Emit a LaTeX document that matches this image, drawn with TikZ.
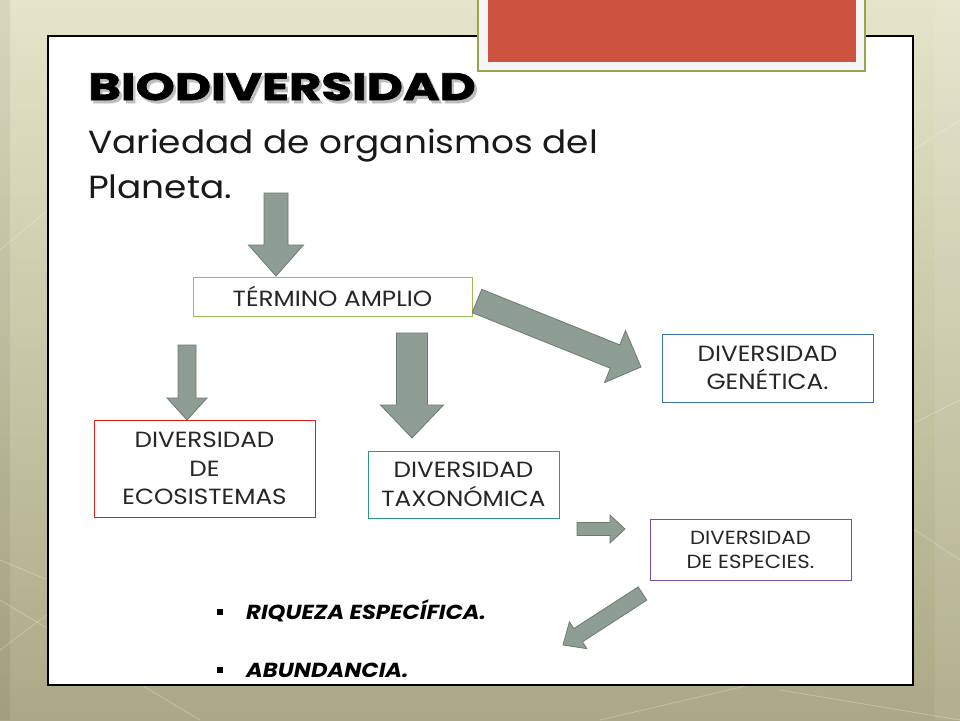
\documentclass[tikz,border=0pt]{standalone}
\usepackage{fontspec}
\setmainfont{Poppins}[FakeStretch=1.12]
\newfontfamily\titlefont{Poppins}[FakeStretch=1.31, BoldFeatures={FakeBold=2}]
\usetikzlibrary{calc}
\definecolor{bgtop}{HTML}{E4E5C9}
\definecolor{bgbot}{HTML}{ABA985}
\definecolor{arrfill}{HTML}{8E9E94}
\definecolor{arrdraw}{HTML}{6C7B72}
\definecolor{redfill}{HTML}{CD5340}
\definecolor{olive}{HTML}{9AA34D}
\definecolor{cgreen}{HTML}{9BBB59}
\definecolor{cblue}{HTML}{3A6FA5}
\definecolor{cred}{HTML}{E0201B}
\definecolor{cteal}{HTML}{2A9A80}
\definecolor{cpurple}{HTML}{7A4FA0}
\tikzset{
  blockarrow/.style={fill=arrfill, draw=arrdraw, line width=0.8pt, line join=miter},
  conceptbox/.style={draw, line width=1pt, align=center, inner sep=0pt, text=black!85},
  boxfont/.style={font=\fontsize{22}{28.5}\selectfont},
  smallfont/.style={font=\fontsize{19}{24}\selectfont},
  titlestyle/.style={anchor=base west, inner sep=0pt, font=\fontsize{38}{38}\selectfont\titlefont\bfseries},
  subtitle/.style={anchor=base west, inner sep=0pt, font=\fontsize{32}{32}\selectfont, text=black!90},
  bullettext/.style={anchor=base west, inner sep=0pt, font=\fontsize{20.3}{20}\selectfont\bfseries\itshape},
}
\newcommand{\blockarr}[6]{%
  \coordinate (#1-h) at ($(#3)!#6!(#2)$);
  \draw[blockarrow] ($(#2)!#4!90:(#3)$) -- ($(#1-h)!#4!90:(#3)$) -- ($(#1-h)!#5!90:(#3)$) -- (#3)
    -- ($(#1-h)!#5!-90:(#3)$) -- ($(#1-h)!#4!-90:(#3)$) -- ($(#2)!#4!-90:(#3)$) -- cycle;
}
\begin{document}
\begin{tikzpicture}[x=1pt,y=-1pt]
\useasboundingbox (0,0) rectangle (960,720);
% background
\shade[top color=bgtop, bottom color=bgbot] (0,0) rectangle (960,720);
\fill[black, opacity=0.06] (0,0) rectangle (10,720);
\fill[white, opacity=0.08] (935,0) rectangle (960,720);
\foreach \a/\b/\c/\d in {0/600/200/720, 0/650/120/560, 0/560/48/580, 900/430/960/400, 900/520/960/560, 600/720/750/685, 780/690/960/720, 0/250/48/210, 913/150/960/120}{
  \draw[white, opacity=0.25, line width=0.8pt] (\a,\b) -- (\c,\d);
}
% panel
\draw[fill=white, line width=1.5pt] (48,36) rectangle (913,685);
% red frame top
\draw[fill=black!4, draw=olive, line width=2.5pt] (478,-5) rectangle (865,71);
\fill[redfill] (488,-5) rectangle (856,62);
% title (with soft shadow)
\node[titlestyle, text=black!25] at (90.5,103) {BIODIVERSIDAD};
\node (title) [titlestyle] at (88,100) {BIODIVERSIDAD};
\node (sub1) [subtitle] at (88,153) {Variedad de organismos del};
\node (sub2) [subtitle] at (88,198) {Planeta.};
% boxes
\node (termino) [conceptbox, boxfont, draw=cgreen, minimum width=279, minimum height=39] at (332.5,296.5) {TÉRMINO AMPLIO};
\node (genetica) [conceptbox, boxfont, draw=cblue, minimum width=211, minimum height=68] at (767.5,368) {DIVERSIDAD\\GENÉTICA.};
\node (ecosis) [conceptbox, boxfont, draw=cred, minimum width=221, minimum height=97] at (204.5,468.5) {DIVERSIDAD\\DE\\ECOSISTEMAS};
\node (taxo) [conceptbox, boxfont, draw=cteal, minimum width=191, minimum height=67] at (463.5,484.5) {DIVERSIDAD\\TAXONÓMICA};
\node (especies) [conceptbox, smallfont, draw=cpurple, minimum width=201, minimum height=61] at (750.5,549.5) {DIVERSIDAD\\DE ESPECIES.};
% arrows
\coordinate (a1t) at (276,193); \coordinate (a1p) at (276,276);
\coordinate (a2t) at (187,345); \coordinate (a2p) at (187,420);
\coordinate (a3t) at (412,333); \coordinate (a3p) at (412,438);
\coordinate (a4t) at (477,301); \coordinate (a4p) at (641,367);
\coordinate (a5t) at (577,529); \coordinate (a5p) at (625,529);
\coordinate (a6t) at (642.5,593.5); \coordinate (a6p) at (563,645);
\blockarr{a1}{a1t}{a1p}{12pt}{27.5pt}{31pt}
\blockarr{a2}{a2t}{a2p}{9pt}{20pt}{22pt}
\blockarr{a3}{a3t}{a3p}{15.5pt}{31.5pt}{33pt}
\blockarr{a4}{a4t}{a4p}{12.6pt}{28pt}{28pt}
\blockarr{a5}{a5t}{a5p}{6.5pt}{14pt}{15pt}
\blockarr{a6}{a6t}{a6p}{7.9pt}{16pt}{18pt}
% bullets
\fill (216.5,609) rectangle (222.5,615);
\fill (216.5,667) rectangle (222.5,673);
\node (b1) [bullettext] at (246,619) {RIQUEZA ESPECÍFICA.};
\node (b2) [bullettext] at (246,677) {ABUNDANCIA.};
\end{tikzpicture}
\end{document}
